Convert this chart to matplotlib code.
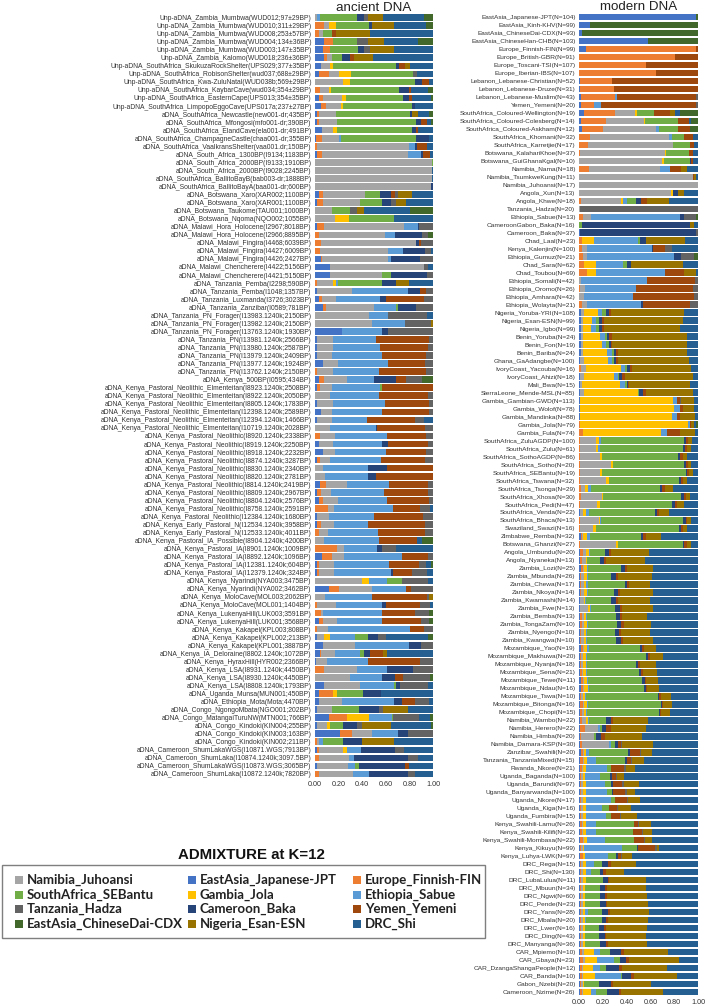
import numpy as np
import matplotlib
matplotlib.use("Agg")
import matplotlib.pyplot as plt
from matplotlib.patches import Rectangle

# ---------------- components (stacking order) ----------------
components = ['EastAsia_Japanese-JPT', 'Europe_Finnish-FIN', 'Namibia_Juhoansi', 'Gambia_Jola',
              'Ethiopia_Sabue', 'SouthAfrica_SEBantu', 'Cameroon_Baka', 'Yemen_Yemeni',
              'Tanzania_Hadza', 'Nigeria_Esan-ESN', 'DRC_Shi', 'EastAsia_ChineseDai-CDX']
comp_colors = ['#4472C4', '#ED7D31', '#A5A5A5', '#FFC000', '#5B9BD5', '#70AD47',
               '#264478', '#9E480E', '#636363', '#997300', '#255E91', '#43682B']

# legend order (column-wise, 3 columns x 4 rows)
legend_order = ['Namibia_Juhoansi', 'SouthAfrica_SEBantu', 'Tanzania_Hadza', 'EastAsia_ChineseDai-CDX',
                'EastAsia_Japanese-JPT', 'Gambia_Jola', 'Cameroon_Baka', 'Nigeria_Esan-ESN',
                'Europe_Finnish-FIN', 'Ethiopia_Sabue', 'Yemen_Yemeni', 'DRC_Shi']

# ---------------- ancient DNA ----------------
ancient_labels = [
    'Unp-aDNA_Zambia_Mumbwa(WUD012;97±29BP)', 'Unp-aDNA_Zambia_Mumbwa(WUD010;311±29BP)',
    'Unp-aDNA_Zambia_Mumbwa(WUD008;253±57BP)', 'Unp-aDNA_Zambia_Mumbwa(WUD004;134±36BP)',
    'Unp-aDNA_Zambia_Mumbwa(WUD003;147±35BP)', 'Unp-aDNA_Zambia_Kalomo(WUD018;236±36BP)',
    'Unp-aDNA_SouthAfrica_SkukuzaRockShelter(UPS029;377±35BP)', 'Unp-aDNA_SouthAfrica_RobisonShelter(wud037;688±29BP)',
    'Unp-aDNA_SouthAfrica_Kwa-ZuluNatal(WUD038b;569±29BP)', 'Unp-aDNA_SouthAfrica_KaybarCave(wud034;354±29BP)',
    'Unp-aDNA_SouthAfrica_EasternCape(UPS013;354±35BP)', 'Unp-aDNA_SouthAfrica_LimpopoEggoCave(UPS017a;237±27BP)',
    'aDNA_SouthAfrica_Newcastle(new001-dr;435BP)', 'aDNA_SouthAfrica_Mfongosi(mfo001-dr;390BP)',
    'aDNA_SouthAfrica_ElandCave(ela001-dr;491BP)', 'aDNA_SouthAfrica_ChampagneCastle(chaa001-dr;355BP)',
    'aDNA_SouthAfrica_VaalkransShelter(vaa001.dr;150BP)', 'aDNA_South_Africa_1300BP(I9134;1183BP)',
    'aDNA_South_Africa_2000BP(I9133;1910BP)', 'aDNA_South_Africa_2000BP(I9028;2245BP)',
    'aDNA_SouthAfrica_BallitoBayB(bab003-dr;1888BP)', 'aDNA_SouthAfrica_BallitoBayA(baa001-dr;600BP)',
    'aDNA_Botswana_Xaro(XAR002;1100BP)', 'aDNA_Botswana_Xaro(XAR001;1100BP)',
    'aDNA_Botswana_Taukome(TAU001;1000BP)', 'aDNA_Botswana_Nqoma(NQO002;1055BP)',
    'aDNA_Malawi_Hora_Holocene(I2967;8018BP)', 'aDNA_Malawi_Hora_Holocene(I2966;8895BP)',
    'aDNA_Malawi_Fingira(I4468;6039BP)', 'aDNA_Malawi_Fingira(I4427;6009BP)',
    'aDNA_Malawi_Fingira(I4426;2427BP)', 'aDNA_Malawi_Chencherere(I4422;5156BP)',
    'aDNA_Malawi_Chencherere(I4421;5150BP)', 'aDNA_Tanzania_Pemba(I2298;590BP)',
    'aDNA_Tanzania_Pemba(I1048;1357BP)', 'aDNA_Tanzania_Luxmanda(I3726;3023BP)',
    'aDNA_Tanzania_Zanzibar(I0589;781BP)', 'aDNA_Tanzania_PN_Forager(I13983.1240k;2150BP)',
    'aDNA_Tanzania_PN_Forager(I13982.1240k;2150BP)', 'aDNA_Tanzania_PN_Forager(I13763.1240k;1930BP)',
    'aDNA_Tanzania_PN(I13981.1240k;2566BP)', 'aDNA_Tanzania_PN(I13980.1240k;2587BP)',
    'aDNA_Tanzania_PN(I13979.1240k;2409BP)', 'aDNA_Tanzania_PN(I13977.1240k;1924BP)',
    'aDNA_Tanzania_PN(I13762.1240k;2150BP)', 'aDNA_Kenya_500BP(I0595;434BP)',
    'aDNA_Kenya_Pastoral_Neolithic_Elmenteitan(I8923.1240k;2508BP)', 'aDNA_Kenya_Pastoral_Neolithic_Elmenteitan(I8922.1240k;2050BP)',
    'aDNA_Kenya_Pastoral_Neolithic_Elmenteitan(I8805.1240k;1783BP)', 'aDNA_Kenya_Pastoral_Neolithic_Elmenteitan(I12398.1240k;2589BP)',
    'aDNA_Kenya_Pastoral_Neolithic_Elmenteitan(I12394.1240k;1466BP)', 'aDNA_Kenya_Pastoral_Neolithic_Elmenteitan(I10719.1240k;2028BP)',
    'aDNA_Kenya_Pastoral_Neolithic(I8920.1240k;2338BP)', 'aDNA_Kenya_Pastoral_Neolithic(I8919.1240k;2250BP)',
    'aDNA_Kenya_Pastoral_Neolithic(I8918.1240k;2232BP)', 'aDNA_Kenya_Pastoral_Neolithic(I8874.1240k;3287BP)',
    'aDNA_Kenya_Pastoral_Neolithic(I8830.1240k;2340BP)', 'aDNA_Kenya_Pastoral_Neolithic(I8820.1240k;2781BP)',
    'aDNA_Kenya_Pastoral_Neolithic(I8814.1240k;2419BP)', 'aDNA_Kenya_Pastoral_Neolithic(I8809.1240k;2967BP)',
    'aDNA_Kenya_Pastoral_Neolithic(I8804.1240k;2576BP)', 'aDNA_Kenya_Pastoral_Neolithic(I8758.1240k;2591BP)',
    'aDNA_Kenya_Pastoral_Neolithic(I12384.1240k;1680BP)', 'aDNA_Kenya_Early_Pastoral_N(I12534.1240k;3958BP)',
    'aDNA_Kenya_Early_Pastoral_N(I12533.1240k;4011BP)', 'aDNA_Kenya_Pastoral_IA_Possible(I8904.1240k;4200BP)',
    'aDNA_Kenya_Pastoral_IA(I8901.1240k;1009BP)', 'aDNA_Kenya_Pastoral_IA(I8892.1240k;1096BP)',
    'aDNA_Kenya_Pastoral_IA(I12381.1240k;604BP)', 'aDNA_Kenya_Pastoral_IA(I12379.1240k;324BP)',
    'aDNA_Kenya_Nyarindi(NYA003;3475BP)', 'aDNA_Kenya_Nyarindi(NYA002;3462BP)',
    'aDNA_Kenya_MoloCave(MOL003;2062BP)', 'aDNA_Kenya_MoloCave(MOL001;1404BP)',
    'aDNA_Kenya_LukenyaHill(LUK003;3591BP)', 'aDNA_Kenya_LukenyaHill(LUK001;3568BP)',
    'aDNA_Kenya_Kakapel(KPL003;808BP)', 'aDNA_Kenya_Kakapel(KPL002;213BP)',
    'aDNA_Kenya_Kakapel(KPL001;3887BP)', 'aDNA_Kenya_IA_Deloraine(I8802.1240k;1072BP)',
    'aDNA_Kenya_HyraxHill(HYR002;2366BP)', 'aDNA_Kenya_LSA(I8931.1240k;4450BP)',
    'aDNA_Kenya_LSA(I8930.1240k;4450BP)', 'aDNA_Kenya_LSA(I8808.1240k;1793BP)',
    'aDNA_Uganda_Munsa(MUN001;450BP)', 'aDNA_Ethiopia_Mota(Mota;4470BP)',
    'aDNA_Congo_NgongoMbata(NGO001;202BP)', 'aDNA_Congo_MatangaiTuruNW(MTN001;766BP)',
    'aDNA_Congo_Kindoki(KIN004;255BP)', 'aDNA_Congo_Kindoki(KIN003;163BP)',
    'aDNA_Congo_Kindoki(KIN002;211BP)', 'aDNA_Cameroon_ShumLakaWGS(I10871.WGS;7913BP)',
    'aDNA_Cameroon_ShumLaka(I10874.1240k;3097.5BP)', 'aDNA_Cameroon_ShumLakaWGS(I10873.WGS;3065BP)',
    'aDNA_Cameroon_ShumLaka(I10872.1240k;7820BP)',
]

# columns follow `components`: JPT, FIN, Juh, Jola, Sabue, SEBantu, Baka, Yemeni, Hadza, Esan, Shi, CDX
ancient_q = [
    [0, 0, .02, 0, .02, .315, .06, 0, .035, .13, .34, .08],
    [0, .076, .045, .054, 0, .28, .023, 0, 0, .19, .27, .06],
    [0, .03, .04, 0, 0, .07, 0, .04, 0, .29, .53, 0],
    [.076, .08, 0, 0, 0, .2, 0, 0, .09, .14, .28, .13],
    [.07, .055, 0, 0, 0, .24, .05, 0, .055, .2, .33, 0],
    [.076, .03, .035, 0, 0, .09, .07, .03, 0, .16, .51, 0],
    [.05, 0, .08, .02, 0, .535, .03, .05, 0, .04, .195, 0],
    [.035, .08, .09, .1, 0, .52, 0, 0, .035, 0, .135, 0],
    [0, 0, .235, .06, 0, .55, .06, .065, 0, 0, .03, 0],
    [0, .04, .08, .015, 0, .57, .09, .015, 0, 0, .145, .04],
    [.03, .035, .16, .04, 0, .475, .055, .02, 0, 0, .16, .02],
    [.05, .045, .125, .02, 0, .585, .02, 0, 0, 0, .155, 0],
    [.015, .02, .14, 0, 0, .63, .02, 0, 0, .05, .09, .035],
    [.015, .02, .15, 0, 0, .675, .035, .05, 0, 0, .04, .015],
    [.06, 0, .095, .03, 0, .635, .04, .015, 0, 0, .125, 0],
    [.01, .05, .14, 0, .02, .635, .11, 0, 0, 0, .035, 0],
    [0, .02, .775, 0, .05, 0, .02, .085, 0, 0, .05, 0],
    [.02, .04, .725, 0, .11, 0, .02, .06, 0, 0, .025, 0],
    [0, 0, .99, 0, 0, .01, 0, 0, 0, 0, 0, 0],
    [0, 0, .99, 0, 0, 0, 0, 0, 0, 0, .01, 0],
    [0, 0, .995, 0, 0, 0, 0, 0, 0, 0, .005, 0],
    [0, 0, .98, 0, 0, 0, .02, 0, 0, 0, 0, 0],
    [.03, .035, .36, 0, 0, .125, .09, .035, .03, .12, .175, 0],
    [.02, .05, .31, 0, 0, .19, .07, 0, .05, .08, .23, 0],
    [0, 0, .14, 0, 0, .155, 0, 0, .06, .055, .395, .19],
    [0, 0, .17, .12, 0, .38, 0, 0, 0, 0, .33, 0],
    [.02, .06, .675, 0, .12, 0, .01, 0, .115, 0, 0, 0],
    [0, .035, .555, 0, .085, 0, .23, 0, .05, 0, 0, .045],
    [0, .05, .805, 0, 0, 0, .025, .02, .1, 0, 0, 0],
    [0, .04, .58, 0, .125, 0, .19, 0, .045, 0, .02, 0],
    [.05, .01, .56, 0, .02, 0, .25, 0, .11, 0, 0, 0],
    [.125, 0, .795, 0, 0, 0, 0, 0, .035, 0, .045, 0],
    [.13, 0, .44, 0, 0, .07, .305, 0, .055, 0, 0, 0],
    [0, .02, .135, .02, .02, .375, .12, 0, 0, .105, .205, 0],
    [.015, 0, .295, 0, .47, 0, .105, .055, .055, 0, 0, 0],
    [.03, .03, .12, 0, .37, 0, .05, .325, .075, 0, 0, 0],
    [.065, .03, .405, 0, .19, .015, .15, 0, .145, 0, 0, 0],
    [0, 0, .46, 0, .16, 0, 0, 0, .33, 0, .05, 0],
    [0, 0, .48, 0, .28, 0, 0, 0, .225, .015, 0, 0],
    [.225, 0, 0, 0, .345, 0, .05, 0, .38, 0, 0, 0],
    [.02, 0, .135, 0, .36, 0, 0, .45, .035, 0, 0, 0],
    [.02, 0, .135, 0, .395, 0, 0, .41, .04, 0, 0, 0],
    [.02, 0, .12, 0, .425, 0, 0, .375, .06, 0, 0, 0],
    [.065, 0, .13, 0, .42, 0, 0, .32, .065, 0, 0, 0],
    [0, .015, .135, 0, .39, 0, 0, .4, .06, 0, 0, 0],
    [.035, .04, .2, 0, .225, 0, .185, .085, .14, 0, 0, .09],
    [.02, .02, .1, 0, .41, .02, 0, .43, 0, 0, 0, 0],
    [0, 0, .125, 0, .42, 0, 0, .41, .045, 0, 0, 0],
    [.02, 0, .135, 0, .435, 0, 0, .375, .035, 0, 0, 0],
    [.05, 0, .09, 0, .43, 0, 0, .395, .035, 0, 0, 0],
    [.02, 0, .12, 0, .3, 0, 0, .405, .08, 0, .075, 0],
    [0, 0, .125, 0, .39, 0, .01, .405, .07, 0, 0, 0],
    [0, .04, .13, 0, .44, 0, 0, .33, .06, 0, 0, 0],
    [.03, 0, .12, 0, .42, 0, .05, .34, .04, 0, 0, 0],
    [.07, 0, .1, 0, .43, 0, 0, .34, .06, 0, 0, 0],
    [.02, .02, .085, 0, .435, 0, 0, .375, .065, 0, 0, 0],
    [0, 0, .07, 0, .38, 0, .16, .39, 0, 0, 0, 0],
    [0, 0, .085, 0, .365, 0, .065, .485, 0, 0, 0, 0],
    [.04, .055, .175, 0, .355, 0, 0, .33, .045, 0, 0, 0],
    [.015, .035, .085, 0, .45, 0, 0, .375, .04, 0, 0, 0],
    [.035, .035, .125, 0, .415, 0, 0, .355, .035, 0, 0, 0],
    [0, .11, .05, 0, .5, 0, 0, .23, .085, 0, .025, 0],
    [.015, 0, .105, 0, .38, 0, 0, .415, .085, 0, 0, 0],
    [.02, .035, .105, 0, .29, 0, 0, .48, .07, 0, 0, 0],
    [0, .03, .08, 0, .42, 0, 0, .4, .07, 0, 0, 0],
    [0, 0, .075, 0, .465, 0, 0, .325, 0, 0, .04, .095],
    [0, .19, .055, 0, .28, 0, .045, 0, .12, 0, .31, 0],
    [.06, .085, .1, 0, .49, 0, 0, .225, .04, 0, 0, 0],
    [.015, .02, .13, 0, .465, 0, 0, .25, .06, 0, .04, .02],
    [.02, .015, .13, 0, .48, 0, .02, .155, .125, 0, .055, 0],
    [0, 0, .395, .065, .15, .125, 0, 0, .22, 0, .045, 0],
    [.12, .085, .28, 0, .29, 0, 0, .04, .185, 0, 0, 0],
    [0, 0, .085, 0, .395, 0, 0, .47, .02, .03, 0, 0],
    [0, .015, .165, 0, .385, 0, .035, .29, .085, 0, .025, 0],
    [0, .05, .02, 0, .495, 0, 0, .28, .125, 0, 0, .03],
    [.03, .035, .12, 0, .385, 0, 0, .33, .07, 0, 0, .03],
    [0, .015, .095, 0, .695, 0, 0, .115, .08, 0, 0, 0],
    [.015, 0, .06, .055, .205, .115, .08, 0, .075, 0, .35, .045],
    [.065, 0, .27, 0, .46, 0, .1, 0, .105, 0, 0, 0],
    [.04, .015, .115, 0, .215, .03, .055, .105, 0, .035, .39, 0],
    [.01, 0, .09, 0, .35, 0, 0, .44, .11, 0, 0, 0],
    [0, .075, .28, 0, .255, 0, .22, 0, .17, 0, 0, 0],
    [0, 0, .3, 0, .27, 0, .105, .07, .23, 0, 0, .025],
    [.075, 0, .305, 0, .29, .02, .03, 0, .24, 0, .04, 0],
    [.035, .12, 0, .03, 0, .225, .15, 0, 0, 0, .44, 0],
    [.035, 0, .19, 0, .445, 0, .07, .105, .125, 0, .03, 0],
    [.02, 0, .125, 0, 0, .23, .17, 0, .035, .21, .21, 0],
    [.115, .155, 0, .185, .195, .015, 0, 0, .22, 0, .09, .025],
    [.02, 0, .08, .03, 0, .105, .125, 0, .035, .245, .34, .02],
    [.21, .1, .175, 0, .215, 0, .085, 0, .215, 0, 0, 0],
    [0, .015, .015, 0, .04, .165, .16, 0, 0, .275, .33, 0],
    [.02, .01, .205, .04, .115, 0, .29, 0, .07, 0, .25, 0],
    [0, .035, .255, 0, .045, 0, .455, 0, .085, 0, .13, 0],
    [.02, 0, .255, 0, .06, .035, .39, .035, 0, 0, .2, 0],
    [0, .035, .29, 0, .13, 0, .335, 0, .055, 0, .155, 0],
]

# ---------------- modern DNA ----------------
modern_labels = [
    'EastAsia_Japanese-JPT(N=104)', 'EastAsia_Kinh-KHV(N=99)', 'EastAsia_ChineseDai-CDX(N=93)',
    'EastAsia_ChineseHan-CHB(N=103)', 'Europe_Finnish-FIN(N=99)', 'Europe_British-GBR(N=91)',
    'Europe_Toscani-TSI(N=107)', 'Europe_Iberian-IBS(N=107)', 'Lebanon_Lebanese-Christian(N=52)',
    'Lebanon_Lebanese-Druze(N=31)', 'Lebanon_Lebanese-Muslim(N=43)', 'Yemen_Yemeni(N=20)',
    'SouthAfrica_Coloured-Wellington(N=19)', 'SouthAfrica_Coloured-Colesberg(N=14)',
    'SouthAfrica_Coloured-Askham(N=12)', 'SouthAfrica_Khomani(N=32)', 'SouthAfrica_Karretjie(N=17)',
    'Botswana_KalahariKhoe(N=37)', 'Botswana_GuiGhanaKgal(N=10)', 'Namibia_Nama(N=18)',
    'Namibia_TsumkweKung(N=11)', 'Namibia_Juhoansi(N=17)', 'Angola_Xun(N=13)', 'Angola_Khwe(N=18)',
    'Tanzania_Hadza(N=20)', 'Ethiopia_Sabue(N=13)', 'CameroonGabon_Baka(N=16)', 'Cameroon_Baka(N=37)',
    'Chad_Laal(N=23)', 'Kenya_Kalenjin(N=100)', 'Ethiopia_Gumuz(N=21)', 'Chad_Sara(N=62)',
    'Chad_Toubou(N=69)', 'Ethiopia_Somali(N=42)', 'Ethiopia_Oromo(N=26)', 'Ethiopia_Amhara(N=42)',
    'Ethiopia_Wolayta(N=21)', 'Nigeria_Yoruba-YRI(N=108)', 'Nigeria_Esan-ESN(N=99)', 'Nigeria_Igbo(N=99)',
    'Benin_Yoruba(N=24)', 'Benin_Fon(N=19)', 'Benin_Bariba(N=24)', 'Ghana_GaAdangbe(N=100)',
    'IvoryCoast_Yacouba(N=16)', 'IvoryCoast_Ahizi(N=18)', 'Mali_Bwa(N=15)', 'SierraLeone_Mende-MSL(N=85)',
    'Gambia_Gambian-GWD(N=113)', 'Gambia_Wolof(N=78)', 'Gambia_Mandinka(N=88)', 'Gambia_Jola(N=79)',
    'Gambia_Fula(N=74)', 'SouthAfrica_ZuluAGDP(N=100)', 'SouthAfrica_Zulu(N=61)',
    'SouthAfrica_SothoAGDP(N=86)', 'SouthAfrica_Sotho(N=20)', 'SouthAfrica_SEBantu(N=19)',
    'SouthAfrica_Tswana(N=32)', 'SouthAfrica_Tsonga(N=29)', 'SouthAfrica_Xhosa(N=30)',
    'SouthAfrica_Pedi(N=47)', 'SouthAfrica_Venda(N=22)', 'SouthAfrica_Bhaca(N=13)', 'Swaziland_Swazi(N=16)',
    'Zimbabwe_Remba(N=32)', 'Botswana_Ghanzi(N=27)', 'Angola_Umbundu(N=20)', 'Angola_Nyaneka(N=13)',
    'Zambia_Lozi(N=25)', 'Zambia_Mbunda(N=26)', 'Zambia_Chewa(N=17)', 'Zambia_Nkoya(N=14)',
    'Zambia_Kwamashi(N=14)', 'Zambia_Fwe(N=13)', 'Zambia_Bemba(N=13)', 'Zambia_TongaZam(N=10)',
    'Zambia_Nyengo(N=10)', 'Zambia_Kwangwa(N=10)', 'Mozambique_Yao(N=19)', 'Mozambique_Makhuwa(N=20)',
    'Mozambique_Nyanja(N=18)', 'Mozambique_Sena(N=21)', 'Mozambique_Tewe(N=11)', 'Mozambique_Ndau(N=16)',
    'Mozambique_Tswa(N=10)', 'Mozambique_Bitonga(N=16)', 'Mozambique_Chopi(N=15)', 'Namibia_Wambo(N=22)',
    'Namibia_Herero(N=22)', 'Namibia_Himba(N=20)', 'Namibia_Damara-KSP(N=30)', 'Zanzibar_Swahili(N=20)',
    'Tanzania_TanzaniaMixed(N=15)', 'Rwanda_Nkore(N=21)', 'Uganda_Baganda(N=100)', 'Uganda_Barundi(N=97)',
    'Uganda_Banyarwanda(N=100)', 'Uganda_Nkore(N=17)', 'Uganda_Kiga(N=16)', 'Uganda_Fumbira(N=15)',
    'Kenya_Swahili-Lamu(N=26)', 'Kenya_Swahili-Kilifi(N=32)', 'Kenya_Swahili-Mombasa(N=22)',
    'Kenya_Kikuyu(N=99)', 'Kenya_Luhya-LWK(N=97)', 'DRC_Rega(N=15)', 'DRC_Shi(N=130)',
    'DRC_LubaLulua(N=11)', 'DRC_Mbuun(N=34)', 'DRC_Ngwi(N=60)', 'DRC_Pende(N=23)', 'DRC_Yans(N=28)',
    'DRC_Mbala(N=20)', 'DRC_Lwer(N=16)', 'DRC_Ding(N=43)', 'DRC_Manyanga(N=36)', 'CAR_Mpiemo(N=10)',
    'CAR_Gbaya(N=23)', 'CAR_DzangaShangaPeople(N=12)', 'CAR_Banda(N=10)', 'Gabon_Nzebi(N=20)',
    'Cameroon_Nzime(N=26)',
]

modern_q = [
    [.98, 0, 0, 0, 0, 0, 0, 0, 0, 0, 0, .02],
    [.095, 0, 0, 0, 0, 0, 0, 0, 0, 0, 0, .905],
    [.025, 0, 0, 0, 0, 0, 0, 0, 0, 0, 0, .975],
    [.58, 0, 0, 0, 0, 0, 0, 0, 0, 0, 0, .42],
    [.055, .93, 0, 0, 0, 0, 0, .015, 0, 0, 0, 0],
    [0, .805, 0, 0, 0, 0, 0, .195, 0, 0, 0, 0],
    [0, .56, 0, 0, 0, 0, 0, .44, 0, 0, 0, 0],
    [0, .65, 0, 0, 0, 0, 0, .35, 0, 0, 0, 0],
    [.01, .27, 0, 0, 0, 0, 0, .72, 0, 0, 0, 0],
    [.01, .285, 0, 0, 0, 0, 0, .705, 0, 0, 0, 0],
    [.015, .29, 0, 0, .015, 0, 0, .665, .015, 0, 0, 0],
    [.015, .115, 0, 0, .055, 0, 0, .8, .015, 0, 0, 0],
    [.04, .26, .17, .015, 0, .145, 0, .135, 0, .04, .04, .155],
    [.015, .21, .32, .01, 0, .275, 0, .095, 0, 0, .02, .055],
    [.025, .175, .45, 0, .02, .16, 0, .1, 0, 0, 0, .07],
    [0, .095, .665, 0, .025, .095, 0, .08, 0, 0, .04, 0],
    [0, .075, .715, 0, 0, .145, 0, .035, 0, 0, .03, 0],
    [0, .01, .71, .015, 0, .19, 0, .03, 0, 0, .045, 0],
    [0, 0, .7, .015, 0, .215, .015, .01, 0, 0, .045, 0],
    [0, .085, .595, 0, .085, 0, 0, .09, 0, .055, .09, 0],
    [0, 0, .96, 0, 0, 0, 0, .01, 0, .01, .02, 0],
    [0, 0, 1, 0, 0, 0, 0, 0, 0, 0, 0, 0],
    [0, 0, .775, .015, 0, 0, .04, 0, 0, .05, .12, 0],
    [0, .02, .335, .015, .035, .075, .04, .055, 0, .18, .245, 0],
    [0, 0, .01, 0, 0, 0, 0, 0, .99, 0, 0, 0],
    [0, .035, .07, 0, .74, 0, .04, 0, .1, 0, 0, .015],
    [0, 0, 0, 0, 0, .025, .91, 0, 0, .035, .03, 0],
    [.005, 0, 0, 0, 0, 0, .975, 0, .02, 0, 0, 0],
    [0, .025, 0, .1, .37, .02, .045, 0, 0, .33, .11, 0],
    [0, .025, .04, 0, .545, 0, .015, .1, .06, 0, .215, 0],
    [0, .035, .035, 0, .725, 0, .06, 0, .115, 0, 0, .03],
    [0, .04, 0, .105, .225, .03, .04, 0, 0, .43, .13, 0],
    [0, .065, 0, .075, .585, 0, 0, .155, 0, .105, .015, 0],
    [0, 0, .015, 0, .56, 0, 0, .4, .025, 0, 0, 0],
    [0, .01, .04, 0, .425, 0, 0, .485, .04, 0, 0, 0],
    [0, 0, .04, 0, .41, 0, 0, .515, .035, 0, 0, 0],
    [0, .025, .04, 0, .46, 0, .015, .39, .07, 0, 0, 0],
    [.015, 0, .025, .12, .035, .035, .02, .02, 0, .615, .115, 0],
    [.015, 0, .02, .075, .035, .025, .02, .02, 0, .665, .125, 0],
    [.015, 0, .02, .07, .035, .03, .02, .02, 0, .64, .15, 0],
    [.015, 0, .02, .145, .035, .02, .02, .02, 0, .635, .09, 0],
    [.015, 0, .02, .16, .035, .02, .015, .015, 0, .63, .09, 0],
    [.015, 0, .02, .2, .04, .02, .015, .015, 0, .58, .095, 0],
    [.01, 0, .035, .195, .04, .015, .015, .015, 0, .6, .075, 0],
    [0, .015, .045, .295, .03, .015, .03, .015, 0, .5, .055, 0],
    [.01, 0, .035, .245, .04, .01, .025, .02, 0, .57, .045, 0],
    [.01, 0, .015, .32, .045, .01, .01, .01, 0, .515, .065, 0],
    [.01, 0, .03, .455, 0, .01, .035, .02, 0, .4, .04, 0],
    [.01, 0, 0, .78, .035, 0, 0, .02, .01, .11, .035, 0],
    [.01, 0, 0, .79, .045, 0, 0, .03, 0, .095, .03, 0],
    [.01, 0, 0, .775, .035, 0, 0, .025, 0, .13, .025, 0],
    [0, .01, 0, .91, .01, 0, 0, .01, 0, .03, .01, .02],
    [0, .035, 0, .65, .055, 0, 0, .105, 0, .13, .025, 0],
    [0, .01, .135, .02, .02, .695, .02, .02, 0, .03, .05, 0],
    [0, .01, .13, .02, .02, .69, .02, .02, 0, .035, .055, 0],
    [0, .01, .165, .02, 0, .635, .02, .02, 0, .04, .09, 0],
    [0, .01, .26, .015, 0, .6, .015, .02, 0, .025, .055, 0],
    [0, .01, .17, .015, 0, .7, .015, .015, 0, .03, .045, 0],
    [0, .01, .22, .02, 0, .59, .02, .015, 0, .03, .095, 0],
    [0, .02, .03, .025, .03, .575, .02, .02, 0, .07, .21, 0],
    [0, .02, .17, .01, 0, .66, .02, .02, 0, .03, .07, 0],
    [0, .01, .14, .025, 0, .61, .02, .02, 0, .055, .12, 0],
    [.01, 0, .02, .03, .025, .55, .02, .02, 0, .085, .24, 0],
    [0, .01, .155, .01, .01, .69, .02, .015, 0, .03, .06, 0],
    [0, .01, .11, .02, 0, .7, .02, .015, 0, .035, .09, 0],
    [.015, .01, .01, .035, .02, .43, .02, .02, 0, .13, .31, 0],
    [0, .01, .3, .015, 0, .545, .015, .02, 0, .04, .055, 0],
    [.01, .02, .03, .02, .01, .125, .035, .02, 0, .315, .415, 0],
    [.01, .015, .03, .01, 0, .11, .035, .02, 0, .325, .445, 0],
    [.015, .015, .015, .02, .01, .28, .03, .015, 0, .22, .38, 0],
    [.01, .01, .02, .025, .01, .195, .045, .015, 0, .28, .39, 0],
    [.01, .01, .02, .02, .015, .31, .02, .015, 0, .18, .4, 0],
    [.01, .01, .02, .025, .01, .215, .04, .015, 0, .275, .38, 0],
    [.01, 0, .03, .01, .01, .21, .045, .015, 0, .27, .41, 0],
    [.01, 0, .065, .015, .01, .205, .04, .015, 0, .265, .375, 0],
    [.01, .015, .02, .015, .01, .245, .03, .015, 0, .21, .43, 0],
    [.01, .015, .02, .02, .01, .245, .035, .02, 0, .23, .395, 0],
    [.01, .01, .02, .02, .01, .23, .035, .015, 0, .25, .4, 0],
    [.01, .01, .025, .01, .01, .245, .045, .015, 0, .25, .38, 0],
    [.02, .01, .015, .02, .015, .435, .015, .02, 0, .1, .35, 0],
    [.01, .01, .015, .02, .015, .49, .02, .015, 0, .11, .295, 0],
    [.01, .01, .01, .03, .01, .405, .02, .015, 0, .135, .355, 0],
    [.01, .015, .01, .025, .01, .43, .02, .015, 0, .12, .345, 0],
    [.015, .02, .01, .025, .01, .455, .02, .015, 0, .095, .34, 0],
    [.015, .02, .01, .03, .01, .465, .015, .01, 0, .095, .33, 0],
    [.01, .01, .01, .02, .01, .6, .015, .01, 0, .085, .23, 0],
    [.01, .02, .01, .025, .01, .61, .01, .01, 0, .075, .22, 0],
    [.01, .015, .015, .02, .01, .61, .01, .01, 0, .075, .235, 0],
    [.01, .015, .035, .015, .01, .145, .035, .02, 0, .295, .42, 0],
    [.01, .04, .11, 0, .02, .015, .03, .045, 0, .295, .435, 0],
    [.01, .01, .105, 0, 0, .02, .035, .035, 0, .31, .47, 0],
    [.01, .015, .23, 0, .015, .03, .025, .03, .01, .26, .375, 0],
    [.015, .015, .01, .02, .02, .335, .01, .09, .01, .085, .39, 0],
    [.01, .02, .01, .03, .075, .24, .015, .035, .01, .1, .455, 0],
    [.01, .015, .01, .025, .175, .035, 0, .11, .015, .075, .53, 0],
    [.01, .01, .01, .025, .12, .085, .02, .03, .01, .065, .625, 0],
    [.01, .01, .01, .025, .16, .05, .02, .08, .01, .125, .5, 0],
    [.01, .01, .01, .025, .18, .04, .01, .105, .01, .07, .53, 0],
    [.01, .01, .01, .025, .21, .035, 0, .1, .01, .1, .49, 0],
    [.01, .01, .01, .025, .14, .055, 0, .07, .01, .105, .565, 0],
    [.01, .01, .01, .025, .175, .035, 0, .08, .01, .13, .515, 0],
    [.01, .015, .01, .02, .09, .315, 0, .035, .01, .1, .395, 0],
    [.01, .015, .01, .025, .08, .31, 0, .08, .01, .075, .385, 0],
    [.01, .025, .01, .02, .15, .245, 0, .085, .01, .055, .39, 0],
    [.01, .01, .01, .01, .32, .125, .01, .14, .02, .015, .33, 0],
    [.01, .02, 0, .02, .195, .065, .02, .025, .01, .08, .555, 0],
    [.01, .01, .01, .025, .07, .07, .045, .025, 0, .215, .52, 0],
    [.01, .01, .01, .025, .05, .07, .03, .025, 0, .15, .62, 0],
    [.01, .01, .01, .025, 0, .15, .04, .01, 0, .31, .435, 0],
    [.01, .01, .01, .02, 0, .125, .045, .015, 0, .335, .44, 0],
    [.01, .01, .01, .02, 0, .125, .045, .015, 0, .345, .43, 0],
    [.01, .01, .01, .02, 0, .13, .045, .015, 0, .345, .425, 0],
    [.01, .01, .015, .02, .02, .12, .05, .015, 0, .33, .42, 0],
    [.01, .01, .01, .02, .01, .13, .04, .015, 0, .335, .42, 0],
    [.01, .01, .01, .02, 0, .115, .045, .015, 0, .35, .425, 0],
    [.01, .01, .01, .02, 0, .12, .045, .015, 0, .335, .435, 0],
    [.01, .01, .01, .02, 0, .125, .055, .01, 0, .335, .425, 0],
    [.01, .015, .015, .09, .05, .08, .095, .02, 0, .375, .25, 0],
    [.01, .02, .02, .095, .14, .05, .055, .02, 0, .41, .16, 0],
    [.01, .015, .01, .08, .06, .05, .115, .02, 0, .385, .26, 0],
    [.01, .015, .01, .1, .215, .015, .075, .02, 0, .36, .18, 0],
    [.01, .01, .01, .015, 0, .12, .105, .015, 0, .32, .4, 0],
    [.01, .015, .01, .07, .035, .1, .1, .015, 0, .355, .295, 0],
]

xticks = [0.0, 0.2, 0.4, 0.6, 0.8, 1.0]

# ---------------- figure ----------------
W, H = 706, 1008
fig = plt.figure(figsize=(W / 100, H / 100), dpi=100)
fig.patch.set_facecolor('white')

LABEL_FONT = ['Liberation Sans', 'DejaVu Sans']


def px_axes(x0, x1, ytop, ybot):
    return fig.add_axes([x0 / W, 1 - ybot / H, (x1 - x0) / W, (ybot - ytop) / H])


def draw_panel(ax, labels, q, title, label_size):
    q = np.asarray(q, dtype=float)
    q = q / q.sum(axis=1, keepdims=True)
    n = len(labels)
    y = np.arange(n)
    left = np.zeros(n)
    for k, c in enumerate(comp_colors):
        ax.barh(y, q[:, k], left=left, height=0.82, color=c, linewidth=0)
        left += q[:, k]
    ax.set_ylim(n - 0.5, -0.5)
    ax.set_xlim(0, 1)
    ax.set_yticks(y)
    ax.set_yticklabels(labels, fontsize=label_size, color='#333333', family=LABEL_FONT)
    ax.tick_params(axis='y', length=0, pad=2.5)
    ax.set_xticks(xticks)
    ax.set_xticklabels([f'{t:.2f}' for t in xticks], fontsize=5.2, color='#333333',
                       family=LABEL_FONT)
    ax.tick_params(axis='x', length=0, pad=2)
    for s in ax.spines.values():
        s.set_visible(False)
    ax.set_title(title, fontsize=9.6, family=LABEL_FONT, color='#222222', pad=1.5)


ax1 = px_axes(315, 433, 13.5, 778)
draw_panel(ax1, ancient_labels, ancient_q, 'ancient DNA', 4.9)

ax2 = px_axes(579, 698, 13, 996)
draw_panel(ax2, modern_labels, modern_q, 'modern DNA', 4.65)

# ---------------- legend ----------------
fig.text(251 / W, 1 - 855 / H, 'ADMIXTURE at K=12', ha='center', va='center',
         fontsize=10.8, fontweight='bold', family=LABEL_FONT, color='#111111')

box = Rectangle((2 / W, 1 - 938 / H), (485 - 2) / W, (938 - 865) / H, transform=fig.transFigure,
                facecolor='white', edgecolor='#7f7f7f', linewidth=1.0)
fig.patches.append(box)

col_marker_x = [15, 188, 353]
row_y = [880, 894.5, 909, 923.5]
cmap = dict(zip(components, comp_colors))
for i, name in enumerate(legend_order):
    c, r = divmod(i, 4)
    mx = col_marker_x[c]
    yy = row_y[r]
    fig.patches.append(Rectangle((mx / W, 1 - (yy + 4) / H), 8 / W, 8 / H, transform=fig.transFigure,
                                 facecolor=cmap[name], edgecolor='none'))
    fig.text((mx + 12) / W, 1 - yy / H, name, ha='left', va='center', fontsize=9.5,
             fontweight='bold', family=['Lato', 'DejaVu Sans'], color='#222222')

fig.savefig('out.png', dpi=100, facecolor='white')
